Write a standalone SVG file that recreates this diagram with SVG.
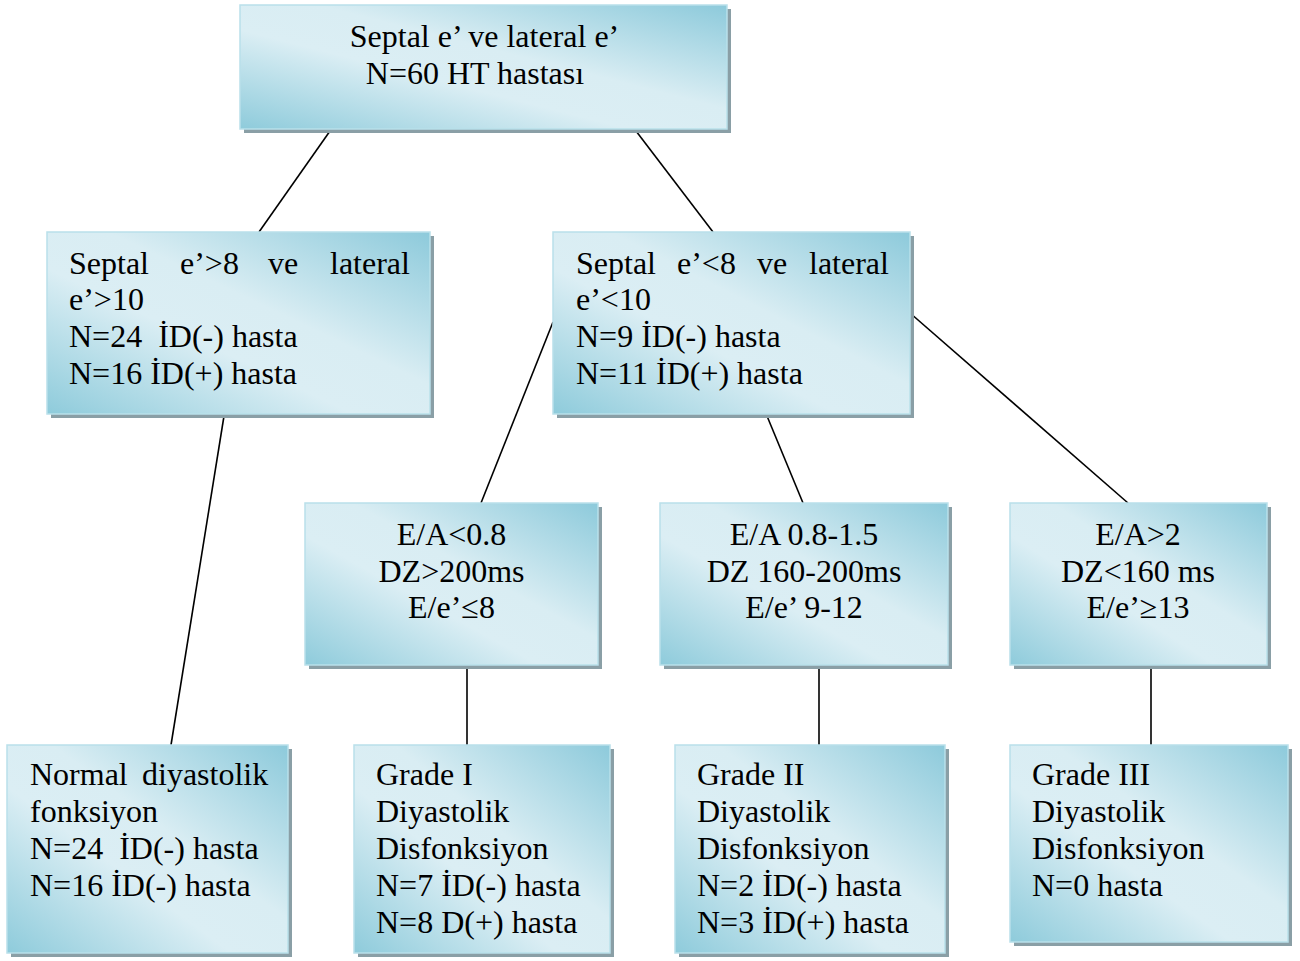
<svg xmlns="http://www.w3.org/2000/svg" width="1300" height="961" viewBox="0 0 1300 961">
<defs>
<linearGradient id="g" x1="1" y1="0" x2="0" y2="1">
<stop offset="0" stop-color="#8dcadb"/>
<stop offset="0.42" stop-color="#d9edf3"/>
<stop offset="0.6" stop-color="#dbeef4"/>
<stop offset="1" stop-color="#8ecbdb"/>
</linearGradient>
</defs>
<style>
.sh{fill:#8a9fa6}
.bx{fill:url(#g);stroke:#b9e0ea;stroke-width:1.5}
text{font-family:"Liberation Serif","Times New Roman",serif;font-size:32px;fill:#000;white-space:pre}
.c{text-anchor:middle}
.ln{stroke:#000;stroke-width:1.6;fill:none}
</style>
<rect width="1300" height="961" fill="#fff"/>
<g id="connectors">
<line class="ln" x1="330" y1="131" x2="259" y2="232"/>
<line class="ln" x1="636" y1="131" x2="713" y2="232"/>
<line class="ln" x1="224" y1="416" x2="171" y2="745"/>
<line class="ln" x1="553" y1="322" x2="481" y2="503"/>
<line class="ln" x1="767" y1="416" x2="803" y2="503"/>
<line class="ln" x1="910" y1="313" x2="1128" y2="503"/>
<line class="ln" x1="467" y1="666" x2="467" y2="745"/>
<line class="ln" x1="819" y1="666" x2="819" y2="745"/>
<line class="ln" x1="1151" y1="666" x2="1151" y2="745"/>
</g>
<g id="n-top">
<rect class="sh" x="244" y="9" width="487" height="124"/>
<rect class="bx" x="240" y="5" width="487" height="124"/>
<text class="c" x="484.5" y="47">Septal e’ ve lateral e’</text>
<text class="c" x="475" y="84">N=60 HT hastası</text>
</g>
<g id="n-left">
<rect class="sh" x="51" y="236" width="383" height="182"/>
<rect class="bx" x="47" y="232" width="383" height="182"/>
<text y="274"><tspan x="69">Septal</tspan><tspan x="180">e’&gt;8</tspan><tspan x="268">ve</tspan><tspan x="330">lateral</tspan></text>
<text x="69" y="310">e’&gt;10</text>
<text x="69" y="347">N=24  İD(-) hasta</text>
<text x="69" y="384">N=16 İD(+) hasta</text>
</g>
<g id="n-right">
<rect class="sh" x="557" y="236" width="357" height="182"/>
<rect class="bx" x="553" y="232" width="357" height="182"/>
<text y="274"><tspan x="576">Septal</tspan><tspan x="677">e’&lt;8</tspan><tspan x="757">ve</tspan><tspan x="809">lateral</tspan></text>
<text x="576" y="310">e’&lt;10</text>
<text x="576" y="347">N=9 İD(-) hasta</text>
<text x="576" y="384">N=11 İD(+) hasta</text>
</g>
<g id="n-ea1">
<rect class="sh" x="309" y="507" width="293" height="162"/>
<rect class="bx" x="305" y="503" width="293" height="162"/>
<text class="c" x="451.5" y="545">E/A&lt;0.8</text>
<text class="c" x="451.5" y="582">DZ&gt;200ms</text>
<text class="c" x="451.5" y="618">E/e’≤8</text>
</g>
<g id="n-ea2">
<rect class="sh" x="664" y="507" width="288" height="162"/>
<rect class="bx" x="660" y="503" width="288" height="162"/>
<text class="c" x="804" y="545">E/A 0.8-1.5</text>
<text class="c" x="804" y="582">DZ 160-200ms</text>
<text class="c" x="804" y="618">E/e’ 9-12</text>
</g>
<g id="n-ea3">
<rect class="sh" x="1014" y="507" width="257" height="162"/>
<rect class="bx" x="1010" y="503" width="257" height="162"/>
<text class="c" x="1138" y="545">E/A&gt;2</text>
<text class="c" x="1138" y="582">DZ&lt;160 ms</text>
<text class="c" x="1138" y="618">E/e’≥13</text>
</g>
<g id="n-normal">
<rect class="sh" x="11" y="749" width="281" height="208"/>
<rect class="bx" x="7" y="745" width="281" height="208"/>
<text y="785"><tspan x="30">Normal</tspan><tspan x="142">diyastolik</tspan></text>
<text x="30" y="822">fonksiyon</text>
<text x="30" y="859">N=24  İD(-) hasta</text>
<text x="30" y="896">N=16 İD(-) hasta</text>
</g>
<g id="n-g1">
<rect class="sh" x="358" y="749" width="256" height="208"/>
<rect class="bx" x="354" y="745" width="256" height="208"/>
<text x="376" y="785">Grade I</text>
<text x="376" y="822">Diyastolik</text>
<text x="376" y="859">Disfonksiyon</text>
<text x="376" y="896">N=7 İD(-) hasta</text>
<text x="376" y="933">N=8 D(+) hasta</text>
</g>
<g id="n-g2">
<rect class="sh" x="679" y="749" width="270" height="208"/>
<rect class="bx" x="675" y="745" width="270" height="208"/>
<text x="697" y="785">Grade II</text>
<text x="697" y="822">Diyastolik</text>
<text x="697" y="859">Disfonksiyon</text>
<text x="697" y="896">N=2 İD(-) hasta</text>
<text x="697" y="933">N=3 İD(+) hasta</text>
</g>
<g id="n-g3">
<rect class="sh" x="1014" y="749" width="278" height="197"/>
<rect class="bx" x="1010" y="745" width="278" height="197"/>
<text x="1032" y="785">Grade III</text>
<text x="1032" y="822">Diyastolik</text>
<text x="1032" y="859">Disfonksiyon</text>
<text x="1032" y="896">N=0 hasta</text>
</g>
</svg>
